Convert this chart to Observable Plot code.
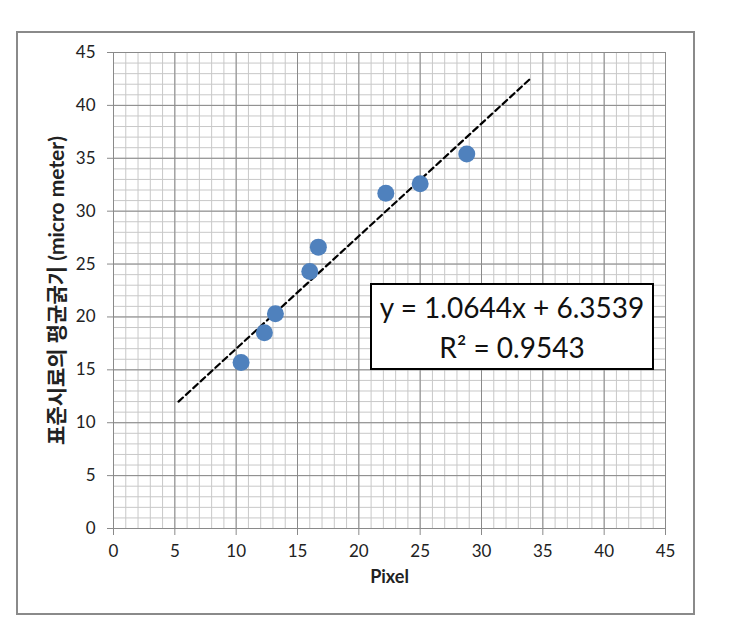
<!DOCTYPE html>
<html>
<head>
<meta charset="utf-8">
<script src="https://cdn.jsdelivr.net/npm/d3@7"></script>
<script src="https://cdn.jsdelivr.net/npm/@observablehq/plot@0.6"></script>
<style>
  html, body { margin: 0; padding: 0; background: #fff; }
  #wrap { position: relative; width: 731px; height: 621px; overflow: hidden; }
  #wrap svg { position: absolute; left: 0; top: 0; }
  #frame { position: absolute; left: 16px; top: 31px; width: 675px; height: 580px; border: 2px solid #8a8a8a; box-sizing: content-box; pointer-events: none; }
  #eq { position: absolute; left: 370px; top: 283px; width: 280px; height: 83px; border: 2px solid #000; background: #fff;
        font-family: Lato, "Open Sans", sans-serif; font-size: 28px; color: #111; text-align: center; line-height: 40px;
        display: flex; flex-direction: column; justify-content: center; }
</style>
</head>
<body>
<div id="wrap"><div id="frame"></div></div>
<script>
// ---- data ----
const pixel     = [10.4, 12.3, 13.2, 16.0, 16.7, 22.2, 25.0, 28.8];
const thickness = [15.7, 18.5, 20.3, 24.3, 26.6, 31.7, 32.6, 35.4];
const slope = 1.0644;
const intercept = 6.3539;
const r2 = 0.9543;
const trendRange = [5.3, 34];
const majorTicks = [0, 5, 10, 15, 20, 25, 30, 35, 40, 45];
const minorTicks = d3.range(0, 46, 1);
const xLabel = "Pixel";
const yLabel = "표준시료의 평균굵기 (micro meter)";

const points = pixel.map((x, i) => ({x, y: thickness[i]}));
const trend = trendRange.map(x => ({x, y: slope * x + intercept}));

const chart = Plot.plot({
  width: 731, height: 621,
  marginLeft: 113, marginRight: 66, marginTop: 52, marginBottom: 93,
  x: {domain: [0, 45]},
  y: {domain: [0, 45]},
  style: {fontFamily: "Lato, 'Noto Sans CJK KR', sans-serif", fontSize: "17px", color: "#222", background: "transparent", overflow: "visible"},
  marks: [
    Plot.ruleX(minorTicks, {stroke: "#c8c8c8", strokeWidth: 1}),
    Plot.ruleY(minorTicks, {stroke: "#c8c8c8", strokeWidth: 1}),
    Plot.ruleX(majorTicks, {stroke: "#8a8a8a", strokeWidth: 1}),
    Plot.ruleY(majorTicks, {stroke: "#8a8a8a", strokeWidth: 1}),
    Plot.axisX({ticks: majorTicks, tickSize: 7, tickPadding: 9, label: null, stroke: "#8a8a8a", fill: "#222"}),
    Plot.axisY({ticks: majorTicks, tickSize: 6, tickPadding: 12, label: null, stroke: "#8a8a8a", fill: "#222"}),
    Plot.text([xLabel], {frameAnchor: "bottom", dy: 54, fontWeight: "bold", fontSize: 18, fill: "#222"}),
    Plot.text([yLabel], {frameAnchor: "left", textAnchor: "middle", dx: -56, rotate: -90, fontWeight: "bold", fontSize: 21, fill: "#222"}),
    Plot.line(trend, {x: "x", y: "y", stroke: "#000", strokeWidth: 2.2, strokeDasharray: "6,4"}),
    Plot.dot(points, {x: "x", y: "y", r: 8.5, fill: "#4F81BD", stroke: "none"})
  ]
});
const wrap = document.getElementById("wrap");
wrap.insertBefore(chart, wrap.firstChild);

const eq = document.createElement("div");
eq.id = "eq";
const l1 = document.createElement("div");
l1.textContent = `y = ${slope.toFixed(4)}x + ${intercept.toFixed(4)}`;
const l2 = document.createElement("div");
l2.textContent = `R² = ${r2.toFixed(4)}`;
eq.appendChild(l1); eq.appendChild(l2);
wrap.appendChild(eq);
</script>
</body>
</html>
